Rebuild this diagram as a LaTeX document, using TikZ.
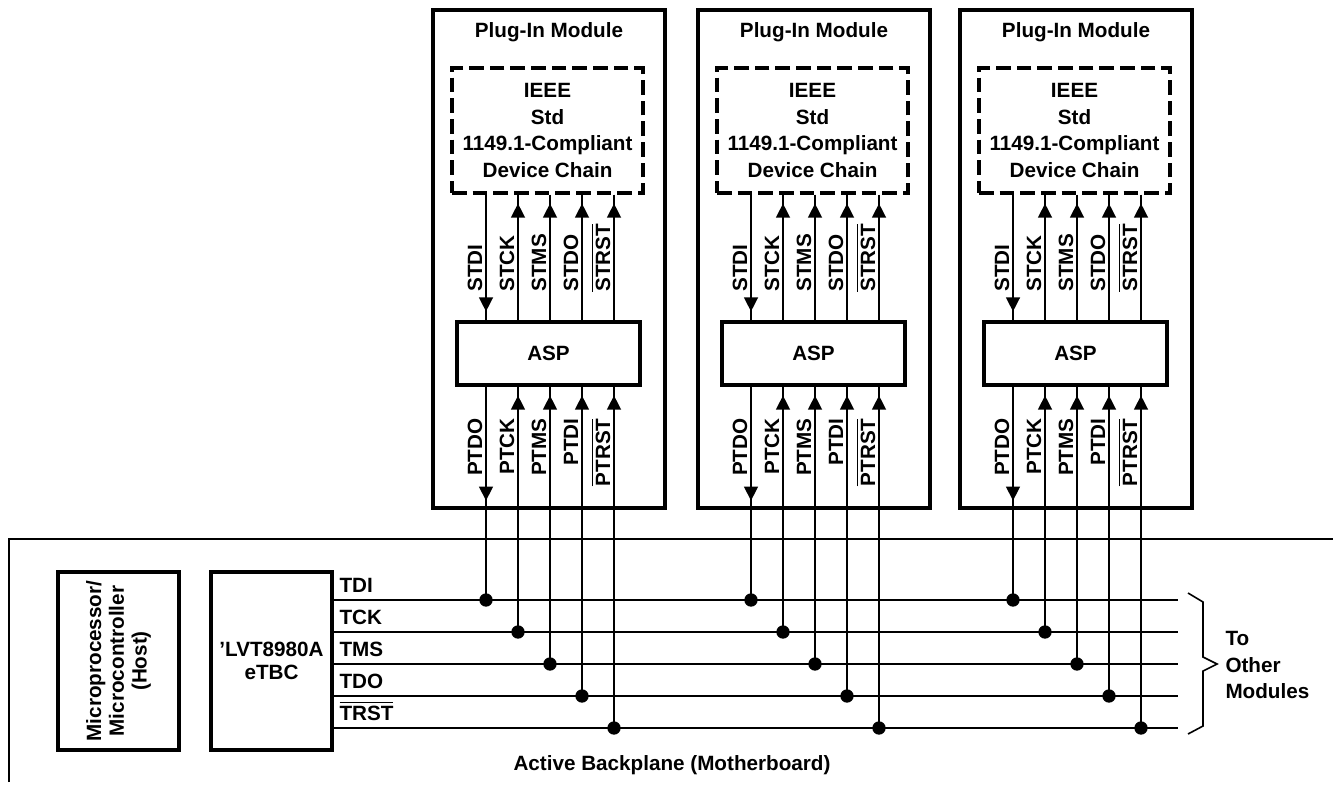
\documentclass[tikz,border=0pt]{standalone}
\usepackage{fontspec}
\setmainfont{Liberation Sans}
\usetikzlibrary{arrows.meta,calc}
\tikzset{every picture/.style={line width=0.75pt}}
% signal name with a bar over it
\newcommand{\barsig}[1]{\setbox0\hbox{#1}\rlap{\rule[\dimexpr\ht0+1.6pt\relax]{\wd0}{1.3pt}}\box0}

\begin{document}
\begin{tikzpicture}[x=0.75pt,y=0.75pt,yscale=-1,xscale=1,
  txt/.style={font=\fontsize{15.5}{20}\selectfont\bfseries, inner sep=0.75pt},
  box/.style={draw, line width=2.4pt, inner sep=0pt},
  sig/.style={line width=1pt},
  tip/.style={line width=1pt, -{Triangle[length=10.5pt,width=10.5pt]}},
  junc/.style={circle, fill, inner sep=0pt, minimum size=10pt},
  uplbl/.style={txt, rotate=90, anchor=base west},
  dnlbl/.style={txt, rotate=90, anchor=base east}]
\useasboundingbox (0,0) rectangle (1333,786);

%Shape: Backplane outline
\draw [line width=2.2pt] (9,782) -- (9,539) -- (1333,539) ;
% Text Node
\node [txt] (bp) at (672,765) {Active Backplane (Motherboard)};

%Shape: Host box
\node [box, txt, rotate=90, align=center, minimum width=133.5pt, minimum height=90.75pt,
  font=\fontsize{15.5}{17}\selectfont\bfseries] (host) at (118.5,661)
  {Microprocessor/\\Microcontroller\\(Host)};
%Shape: eTBC box
\node [box, txt, align=center, minimum width=90.75pt, minimum height=133.5pt,
  font=\fontsize{15.5}{17}\selectfont\bfseries] (tbc) at (271.5,661) {'LVT8980A\\eTBC};

%Straight Lines: bus
\foreach \y/\name [count=\k from 0] in {600/TDI,632/TCK,664/TMS,696/TDO,728/\barsig{TRST}} {
  \coordinate (bus\k) at (1178,\y);
  \draw [sig] (tbc.east |- bus\k) -- (bus\k);
  \node [txt, anchor=base west] (bl\k) at (338,\y-8) {\name};
}

%Plug-in modules
\foreach \mx [count=\i] in {486,751,1013} {
  \node [box, minimum width=174pt, minimum height=373.5pt] (mod\i) at (\mx+63,259) {};
  \node [txt] (title\i) at (\mx+63,32) {Plug-In Module};
  \node [box, txt, dash pattern=on 11pt off 4.5pt, align=center, minimum width=143.25pt,
    minimum height=93.75pt] (chain\i) at (\mx+61.5,130.5) {IEEE\\Std\\1149.1-Compliant\\Device Chain};
  \node [box, txt, minimum width=137.25pt, minimum height=47.25pt] (asp\i) at (\mx+62.5,353.5) {ASP};
  \foreach \k/\up/\dn in {0/STDI/PTDO,1/STCK/PTCK,2/STMS/PTMS,3/STDO/PTDI,4/\barsig{STRST}/\barsig{PTRST}} {
    \coordinate (dot\i\k) at (\mx+32*\k,600+32*\k);
    \draw [sig] (chain\i.south -| dot\i\k) -- (asp\i.north -| dot\i\k);
    \draw [sig] (asp\i.south -| dot\i\k) -- (dot\i\k);
    \node [junc] (j\i\k) at (dot\i\k) {};
    \node [uplbl] (s\i\k) at (\mx+32*\k-4,293) {\up};
    \node [dnlbl] (p\i\k) at (\mx+32*\k-4,417) {\dn};
  }
  % arrow heads
  \draw [tip] ($(asp\i.north -| dot\i0)+(0,-24)$) -- ($(asp\i.north -| dot\i0)+(0,-9)$);
  \draw [tip] ($(mod\i.south -| dot\i0)+(0,-24)$) -- ($(mod\i.south -| dot\i0)+(0,-9)$);
  \foreach \k in {1,...,4} {
    \draw [tip] ($(chain\i.south -| dot\i\k)+(0,24)$) -- ($(chain\i.south -| dot\i\k)+(0,9)$);
    \draw [tip] ($(asp\i.south -| dot\i\k)+(0,24)$) -- ($(asp\i.south -| dot\i\k)+(0,9)$);
  }
}

%Shape: Brace
\coordinate (br1) at (1188,593);
\coordinate (br2) at (1203,602);
\coordinate (brm) at (1217,664);
\coordinate (br3) at (1203,726);
\coordinate (br4) at (1188,734);
\draw [line width=1.2pt] (br1) -- (br2) -- (1203,657) -- (brm) -- (1203,671) -- (br3) -- (br4) ;
% Text Node
\node [txt, align=left, anchor=west] (other) at (1224,665) {To\\Other\\Modules};

\end{tikzpicture}
\end{document}
